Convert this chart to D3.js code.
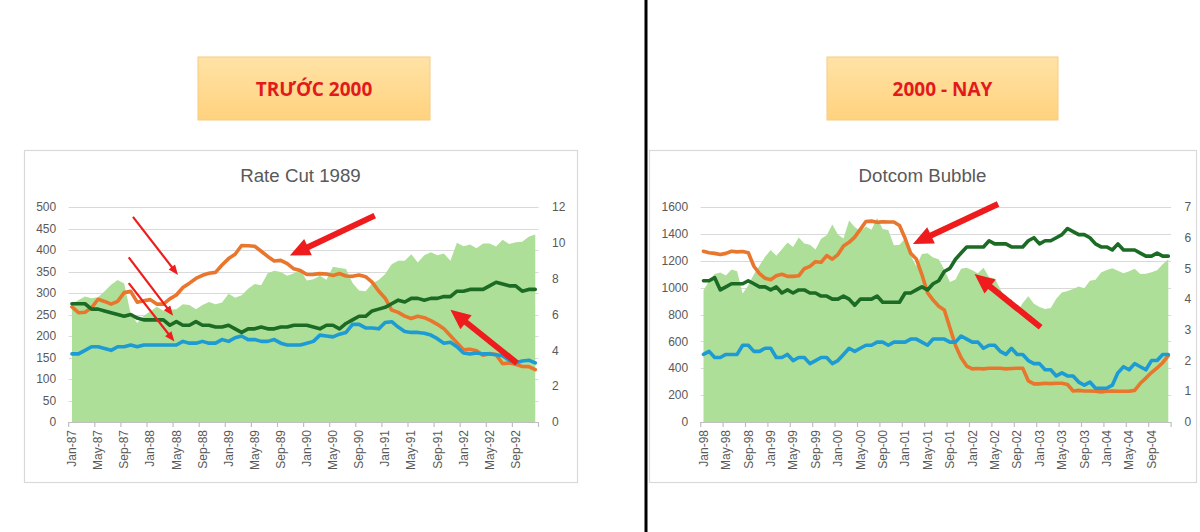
<!DOCTYPE html>
<html><head><meta charset="utf-8">
<script src="https://cdn.jsdelivr.net/npm/d3@7"></script>
<style>body{margin:0;background:#fff;} svg{display:block;}</style>
</head><body>
<svg id="c" width="1200" height="532"></svg>
<script>
// ---------------- DATA ----------------
const fmt = d3.timeFormat("%b-%y");
const catsLeft = d3.timeMonth.range(new Date(1987,0,1), new Date(1993,0,1)).map(fmt);
const catsRight = d3.timeMonth.range(new Date(1998,0,1), new Date(2005,0,1)).map(fmt);

const tickLabelsLeft = ["Jan-87","May-87","Sep-87","Jan-88","May-88","Sep-88","Jan-89","May-89","Sep-89",
  "Jan-90","May-90","Sep-90","Jan-91","May-91","Sep-91","Jan-92","May-92","Sep-92"];
const tickLabelsRight = ["Jan-98","May-98","Sep-98","Jan-99","May-99","Sep-99","Jan-00","May-00","Sep-00",
  "Jan-01","May-01","Sep-01","Jan-02","May-02","Sep-02","Jan-03","May-03","Sep-03","Jan-04","May-04","Sep-04"];

// Rate Cut 1989 (Jan-87 .. Dec-92)
const sp500Left = [274,284,292,288,290,304,319,330,322,252,230,247,
  257,268,259,261,262,274,272,262,272,279,274,278,
  298,289,295,310,321,318,346,352,349,340,346,353,
  329,332,340,331,361,358,356,323,306,304,322,330,
  344,367,375,375,390,371,388,395,388,392,375,417,
  409,413,404,415,415,408,424,414,418,419,431,436];
const fedFundsLeft = [6.43,6.10,6.13,6.37,6.85,6.73,6.58,6.73,7.22,7.29,6.69,6.77,
  6.83,6.58,6.58,6.87,7.09,7.51,7.75,8.01,8.19,8.30,8.35,8.76,
  9.12,9.36,9.85,9.84,9.81,9.53,9.24,8.99,9.02,8.84,8.55,8.45,
  8.23,8.24,8.28,8.26,8.18,8.29,8.15,8.13,8.20,8.11,7.81,7.31,
  6.91,6.25,6.12,5.91,5.78,5.90,5.82,5.66,5.45,5.21,4.81,4.43,
  4.03,4.06,3.98,3.73,3.82,3.76,3.25,3.30,3.22,3.10,3.09,2.92];
const coreCpiLeft = [3.8,3.8,4.0,4.2,4.2,4.1,4.0,4.2,4.2,4.3,4.2,4.3,
  4.3,4.3,4.3,4.3,4.3,4.5,4.4,4.4,4.5,4.4,4.4,4.6,
  4.5,4.7,4.8,4.6,4.6,4.5,4.5,4.6,4.4,4.3,4.3,4.3,
  4.4,4.5,4.85,4.8,4.75,4.9,5.0,5.45,5.45,5.25,5.25,5.2,
  5.55,5.6,5.3,5.05,5.0,5.0,4.95,4.85,4.65,4.4,4.45,4.2,
  3.85,3.8,3.85,3.8,3.8,3.75,3.7,3.45,3.3,3.4,3.45,3.3];
const unemploymentLeft = [6.6,6.6,6.6,6.3,6.3,6.2,6.1,6.0,5.9,6.0,5.8,5.7,
  5.7,5.7,5.7,5.4,5.6,5.4,5.4,5.6,5.4,5.4,5.3,5.3,
  5.4,5.2,5.0,5.2,5.2,5.3,5.2,5.2,5.3,5.3,5.4,5.4,
  5.4,5.3,5.2,5.4,5.4,5.2,5.5,5.7,5.9,5.9,6.2,6.3,
  6.4,6.6,6.8,6.7,6.9,6.9,6.8,6.9,6.9,7.0,7.0,7.3,
  7.3,7.4,7.4,7.4,7.6,7.8,7.7,7.6,7.6,7.3,7.4,7.4];

// Dotcom Bubble (Jan-98 .. Dec-04)
const sp500Right = [980,1049,1102,1112,1091,1134,1121,957,1017,1099,1164,1229,
  1280,1238,1286,1335,1302,1373,1329,1320,1283,1363,1389,1469,
  1395,1366,1499,1452,1421,1455,1431,1518,1437,1429,1315,1320,
  1366,1240,1160,1250,1256,1224,1211,1134,1041,1060,1140,1148,
  1130,1107,1147,1077,1067,990,912,916,815,886,936,880,
  856,841,848,917,964,975,990,1008,996,1051,1058,1112,
  1131,1145,1126,1107,1121,1141,1102,1104,1115,1130,1174,1212];
const fedFundsRight = [5.56,5.51,5.49,5.45,5.49,5.56,5.54,5.55,5.51,5.07,4.83,4.68,
  4.63,4.76,4.81,4.74,4.74,4.76,4.99,5.07,5.22,5.20,5.42,5.30,
  5.45,5.73,5.85,6.02,6.27,6.53,6.54,6.50,6.52,6.51,6.51,6.40,
  5.98,5.49,5.31,4.80,4.21,3.97,3.77,3.65,3.07,2.49,2.09,1.82,
  1.73,1.74,1.73,1.75,1.75,1.75,1.73,1.74,1.75,1.75,1.34,1.24,
  1.24,1.26,1.25,1.26,1.26,1.22,1.01,1.03,1.01,1.01,1.00,0.98,
  1.00,1.01,1.00,1.00,1.00,1.03,1.26,1.43,1.61,1.76,1.93,2.16];
const coreCpiRight = [2.2,2.3,2.1,2.1,2.2,2.2,2.2,2.5,2.5,2.3,2.3,2.4,
  2.4,2.1,2.1,2.2,2.0,2.1,2.1,1.9,2.0,2.1,2.1,1.9,
  2.0,2.2,2.4,2.3,2.4,2.5,2.5,2.6,2.6,2.5,2.6,2.6,
  2.6,2.7,2.7,2.6,2.5,2.7,2.7,2.7,2.6,2.6,2.8,2.7,
  2.6,2.6,2.4,2.5,2.5,2.3,2.2,2.4,2.2,2.2,2.0,1.9,
  1.9,1.7,1.7,1.5,1.6,1.5,1.5,1.3,1.2,1.3,1.1,1.1,
  1.1,1.2,1.6,1.8,1.7,1.9,1.8,1.7,2.0,2.0,2.2,2.2];
const unemploymentRight = [4.6,4.6,4.7,4.3,4.4,4.5,4.5,4.5,4.6,4.5,4.4,4.4,
  4.3,4.4,4.2,4.3,4.2,4.3,4.3,4.2,4.2,4.1,4.1,4.0,
  4.0,4.1,4.0,3.8,4.0,4.0,4.0,4.1,3.9,3.9,3.9,3.9,
  4.2,4.2,4.3,4.4,4.3,4.5,4.6,4.9,5.0,5.3,5.5,5.7,
  5.7,5.7,5.7,5.9,5.8,5.8,5.8,5.7,5.7,5.7,5.9,6.0,
  5.8,5.9,5.9,6.0,6.1,6.3,6.2,6.1,6.1,6.0,5.8,5.7,
  5.7,5.6,5.8,5.6,5.6,5.6,5.5,5.4,5.4,5.5,5.4,5.4];

// annotation arrows: [fromIndex, fromLeftValue, toIndex, toLeftValue, thick]
const arrowsLeft = [[9.35,477,16.25,342,0],[8.7,383,15.5,247,0],[8.7,323,15.7,187,0],
  [46.4,480,33.4,387,1],[68.2,137,58.0,261,1]];
const arrowsRight = [[52.6,1622,37.4,1325,1],[60.2,705,48.4,1101,1]];

// ---------------- DRAW ----------------
const svg = d3.select("#c");
const GRID = "#D9D9D9", TXT = "#595959";
const C_AREA = "#AEDF98", C_OR = "#E8762D", C_BL = "#1D9BD4", C_GR = "#1B6B25", RED = "#EE1C1C";
const FONT = "'Liberation Sans', Arial, sans-serif";

svg.append("rect").attr("width",1200).attr("height",532).attr("fill","#fff");

// header boxes
const grad = svg.append("defs").append("linearGradient").attr("id","hg")
  .attr("x1",0).attr("x2",0).attr("y1",0).attr("y2",1);
grad.append("stop").attr("offset","0%").attr("stop-color","#FFE3A6");
grad.append("stop").attr("offset","100%").attr("stop-color","#FFD27E");
[["TRƯỚC 2000",198,430],["2000 - NAY",827,1058]].forEach(([t,x0,x1])=>{
  svg.append("rect").attr("x",x0).attr("y",57).attr("width",x1-x0).attr("height",63)
    .attr("fill","url(#hg)").attr("stroke","#F6CC82").attr("stroke-width",1);
  svg.append("text").attr("x",(x0+x1)/2).attr("y",89).attr("dy","0.36em")
    .attr("text-anchor","middle").attr("font-family","'Open Sans', sans-serif")
    .attr("font-weight","bold").attr("font-size",19).attr("fill","#E31A1C").text(t);
});

const charts = [
  {title:"Rate Cut 1989", frame:[24,150,577,482], plot:[68.7,207,538.5,422],
   cats:catsLeft, ticks:tickLabelsLeft, area:sp500Left, orange:fedFundsLeft, blue:coreCpiLeft, green:unemploymentLeft,
   lMax:500, lStep:50, rMax:12, rStep:2, arrows:arrowsLeft},
  {title:"Dotcom Bubble", frame:[649,150,1196,482], plot:[700.7,207,1171.1,422],
   cats:catsRight, ticks:tickLabelsRight, area:sp500Right, orange:fedFundsRight, blue:coreCpiRight, green:unemploymentRight,
   lMax:1600, lStep:200, rMax:7, rStep:1, arrows:arrowsRight}
];

function drawArrow(g, x1,y1,x2,y2, w, hl, hw){
  const dx=x2-x1, dy=y2-y1, len=Math.hypot(dx,dy), ux=dx/len, uy=dy/len;
  const bx=x2-ux*hl, by=y2-uy*hl;
  g.append("line").attr("x1",x1).attr("y1",y1).attr("x2",bx+ux*2).attr("y2",by+uy*2)
    .attr("stroke",RED).attr("stroke-width",w);
  g.append("polygon").attr("points",[[x2,y2],[bx-uy*hw/2,by+ux*hw/2],[bx+uy*hw/2,by-ux*hw/2]].map(p=>p.join(",")).join(" "))
    .attr("fill",RED);
}

charts.forEach(c=>{
  const g = svg.append("g");
  const [fx0,fy0,fx1,fy1] = c.frame, [px0,py0,px1,py1] = c.plot;
  g.append("rect").attr("x",fx0+0.5).attr("y",fy0+0.5).attr("width",fx1-fx0).attr("height",fy1-fy0)
    .attr("fill","#fff").attr("stroke",GRID).attr("stroke-width",1.2);
  g.append("text").attr("x",(fx0+fx1)/2).attr("y",182).attr("text-anchor","middle")
    .attr("font-family",FONT).attr("font-size",18.7).attr("fill",TXT).text(c.title);

  const x = d3.scaleBand().domain(c.cats).range([px0,px1]).padding(0);
  const xc = d => x(d)+x.bandwidth()/2;
  const xi = d3.scaleLinear().domain([0,c.cats.length-1]).range([xc(c.cats[0]), xc(c.cats[c.cats.length-1])]);
  const yL = d3.scaleLinear().domain([0,c.lMax]).range([py1,py0]);
  const yR = d3.scaleLinear().domain([0,c.rMax]).range([py1,py0]);

  // gridlines + left axis labels
  const lt = d3.range(0,c.lMax+c.lStep/2,c.lStep);
  g.selectAll(".gl").data(lt.slice(1)).join("line").attr("x1",px0).attr("x2",px1)
    .attr("y1",d=>Math.round(yL(d))+0.5).attr("y2",d=>Math.round(yL(d))+0.5).attr("stroke",GRID).attr("stroke-width",1.2);
  g.selectAll(".ll").data(lt).join("text").attr("x",px0-12.5).attr("y",d=>yL(d)).attr("dy","0.35em")
    .attr("text-anchor","end").attr("font-family",FONT).attr("font-size",12).attr("fill",TXT).text(d=>d);
  const rt = d3.range(0,c.rMax+c.rStep/2,c.rStep);
  g.selectAll(".rl").data(rt).join("text").attr("x",px1+13.5).attr("y",d=>yR(d)).attr("dy","0.35em")
    .attr("text-anchor","start").attr("font-family",FONT).attr("font-size",12).attr("fill",TXT).text(d=>d);

  // area
  g.append("path").datum(c.area).attr("fill",C_AREA)
    .attr("d", d3.area().x((d,i)=>xc(c.cats[i])).y0(yL(0)).y1(d=>yL(d)));

  // lines
  const line = d3.line().x((d,i)=>xc(c.cats[i])).y(d=>yR(d));
  [[c.orange,C_OR],[c.blue,C_BL],[c.green,C_GR]].forEach(([s,col])=>{
    g.append("path").datum(s).attr("fill","none").attr("stroke",col).attr("stroke-width",3.6)
      .attr("stroke-linejoin","round").attr("stroke-linecap","round").attr("d",line);
  });

  // x axis
  g.append("line").attr("x1",px0).attr("x2",px1).attr("y1",py1+0.5).attr("y2",py1+0.5).attr("stroke","#BFBFBF").attr("stroke-width",1.2);
  const tickX = c.ticks.map(t=>x(t)).concat([px1]);
  g.selectAll(".tk").data(tickX).join("line").attr("x1",d=>d).attr("x2",d=>d).attr("y1",py1).attr("y2",py1+5)
    .attr("stroke","#BFBFBF").attr("stroke-width",1.2);
  g.selectAll(".xl").data(c.ticks).join("text")
    .attr("transform",d=>`translate(${xc(d)},${py1+8}) rotate(-90)`).attr("dy","0.35em")
    .attr("text-anchor","end").attr("font-family",FONT).attr("font-size",12).attr("fill",TXT).text(d=>d);

  // arrows
  c.arrows.forEach(a=>{
    const thick = a[4]===1;
    drawArrow(g, xi(a[0]), yL(a[1]), xi(a[2]), yL(a[3]), thick?6:2.2, thick?20:10, thick?18:8);
  });
});

// divider
svg.append("line").attr("x1",646).attr("x2",646).attr("y1",0).attr("y2",532)
  .attr("stroke","#000").attr("stroke-width",3);
</script>
</body></html>
